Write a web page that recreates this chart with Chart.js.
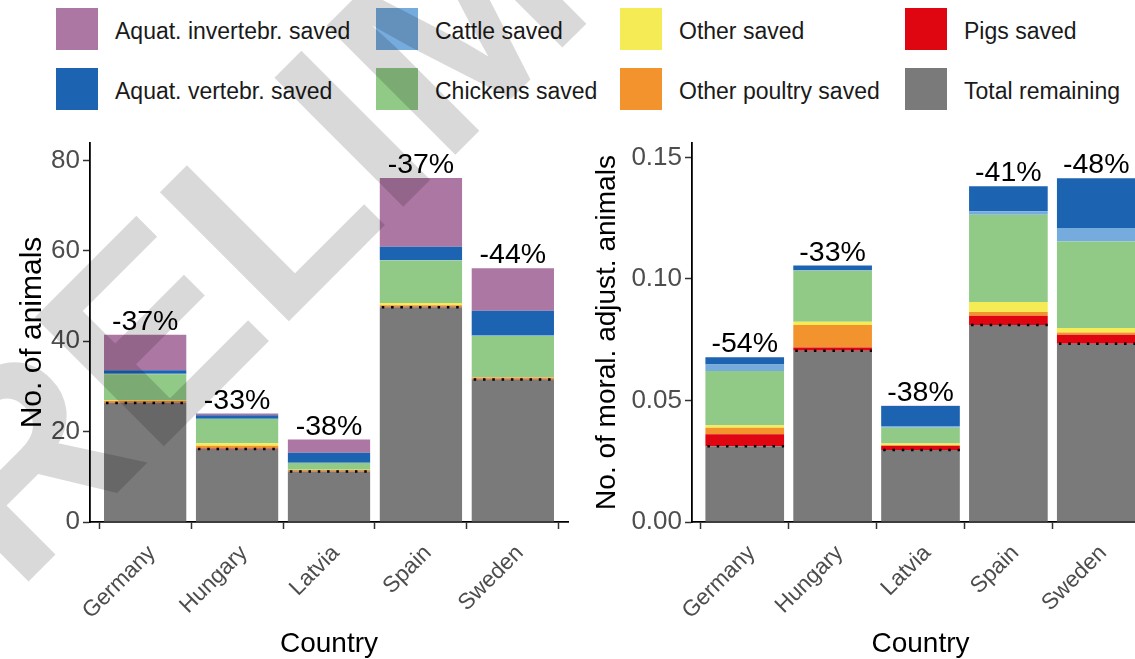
<!DOCTYPE html>
<html>
<head>
<meta charset="utf-8">
<script src="https://cdn.jsdelivr.net/npm/chart.js@4.4.1/dist/chart.umd.min.js"></script>
<style>
  html, body { margin: 0; padding: 0; background: #fff; overflow: hidden; width: 1135px; height: 659px; }
  body { position: relative; font-family: "Liberation Sans", Arial, sans-serif; }
  #legend { position: absolute; left: 56px; top: 8px; display: grid;
    grid-template-columns: 320px 244px 285px 230px; grid-template-rows: 42px 42px;
    row-gap: 18px; grid-auto-flow: column; }
  .item { display: flex; align-items: center; font-size: 23px; color: #1a1a1a; white-space: nowrap; }
  .item span.txt { position: relative; top: 2px; }
  .sw { width: 42px; height: 42px; margin-right: 17px; flex: none; }
  #wrapL { position: absolute; left: 0; top: 123px; width: 570px; height: 536px; }
  #wrapR { position: absolute; left: 570px; top: 123px; width: 600px; height: 536px; }
  #wm { position: absolute; left: 0; top: 0; pointer-events: none; }
</style>
</head>
<body>
<div id="legend"></div>
<div id="wrapL"><canvas id="animalsChart" width="570" height="536"></canvas></div>
<div id="wrapR"><canvas id="moralChart" width="600" height="536"></canvas></div>
<canvas id="wm" width="1135" height="659"></canvas>
<script>
const countries = ["Germany", "Hungary", "Latvia", "Spain", "Sweden"];

// stacking order, bottom to top
const seriesNames = ["Total remaining", "Pigs saved", "Other poultry saved", "Other saved",
  "Chickens saved", "Cattle saved", "Aquat. vertebr. saved", "Aquat. invertebr. saved"];
const seriesColors = ["#7a7a7a", "#df0511", "#f2932d", "#f5ec55",
  "#91c987", "#76abdd", "#1c64b2", "#ad77a4"];
// legend reads column by column
const legendOrder = ["Aquat. invertebr. saved", "Aquat. vertebr. saved", "Cattle saved", "Chickens saved",
  "Other saved", "Other poultry saved", "Pigs saved", "Total remaining"];

// left panel: no. of animals
const animRemaining    = [26.3, 16.15, 11.2, 47.5, 31.55];
const animPigs         = [0.1, 0.1, 0.05, 0.1, 0.1];
const animOtherPoultry = [0.4, 0.6, 0.25, 0.35, 0.3];
const animOther        = [0.15, 0.6, 0.05, 0.5, 0.1];
const animChickens     = [5.75, 5.35, 1.5, 9.4, 9.1];
const animCattle       = [0.1, 0.05, 0.05, 0.1, 0.1];
const animAqVert       = [0.8, 0.75, 2.2, 2.95, 5.5];
const animAqInvert     = [7.8, 0.4, 2.95, 15.2, 9.4];
const animPct          = ["-37%", "-33%", "-38%", "-37%", "-44%"];

// right panel: no. of moral. adjust. animals
const moralRemaining    = [0.0312, 0.0704, 0.0296, 0.0810, 0.0733];
const moralPigs         = [0.0049, 0.0014, 0.0018, 0.0038, 0.0037];
const moralOtherPoultry = [0.0027, 0.0092, 0.0002, 0.0016, 0.0010];
const moralOther        = [0.0010, 0.0014, 0.0007, 0.0041, 0.0018];
const moralChickens     = [0.0223, 0.0210, 0.0065, 0.0359, 0.0356];
const moralCattle       = [0.0027, 0.0002, 0.0007, 0.0014, 0.0055];
const moralAqVert       = [0.0030, 0.0019, 0.0082, 0.0103, 0.0205];
const moralAqInvert     = [0, 0, 0.0001, 0, 0];
const moralPct          = ["-54%", "-33%", "-38%", "-41%", "-48%"];

const FONT = "'Liberation Sans', Arial, sans-serif";

// legend
const legendEl = document.getElementById("legend");
legendOrder.forEach(name => {
  const k = seriesNames.indexOf(name);
  const item = document.createElement("div");
  item.className = "item";
  item.innerHTML = '<span class="sw" style="background:' + seriesColors[k] + '"></span><span class="txt">' + name + '</span>';
  legendEl.appendChild(item);
});

function makeDatasets(rows) {
  return rows.map((vals, k) => ({
    label: seriesNames[k],
    data: vals.map((v, i) => ({ x: i, y: v })),
    backgroundColor: seriesColors[k],
    borderWidth: 0,
    barPercentage: 0.895,
    categoryPercentage: 1
  }));
}

// percentage labels + dotted line at the remaining total
const barNotes = {
  id: "barNotes",
  afterDatasetsDraw(chart, args, opts) {
    const { ctx } = chart;
    const y = chart.scales.y;
    const bars = chart.getDatasetMeta(0).data;
    bars.forEach((bar, i) => {
      const left = bar.x - bar.width / 2, right = bar.x + bar.width / 2;
      const yr = y.getPixelForValue(opts.remaining[i]);
      ctx.save();
      ctx.strokeStyle = "#000";
      ctx.lineWidth = 2.5;
      ctx.setLineDash([2.5, 6.8]);
      ctx.lineDashOffset = -2;
      ctx.beginPath();
      ctx.moveTo(left, yr);
      ctx.lineTo(right, yr);
      ctx.stroke();
      ctx.setLineDash([]);
      const total = chart.data.datasets.reduce((s, d) => s + d.data[i].y, 0);
      ctx.font = "28.5px " + FONT;
      ctx.fillStyle = "#000";
      ctx.textAlign = "center";
      ctx.textBaseline = "alphabetic";
      ctx.fillText(opts.labels[i], bar.x, y.getPixelForValue(total) - 5);
      ctx.restore();
    });
  }
};

function makeChart(id, rows, o) {
  return new Chart(document.getElementById(id), {
    type: "bar",
    data: { datasets: makeDatasets(rows) },
    plugins: [barNotes],
    options: {
      responsive: false,
      animation: false,
      layout: { padding: o.padding },
      plugins: {
        legend: { display: false },
        tooltip: { enabled: false },
        barNotes: { labels: o.labels, remaining: rows[0] }
      },
      scales: {
        x: {
          type: "linear",
          min: -0.6,
          max: countries.length - 0.4,
          stacked: true,
          offset: false,
          afterFit: s => { s.height = 137; },
          ticks: {
            stepSize: 1,
            includeBounds: false,
            autoSkip: false,
            minRotation: 45,
            maxRotation: 45,
            padding: 11,
            labelOffset: 7,
            color: "#4d4d4d",
            font: { family: FONT, size: 22.5 },
            callback: v => countries[v]
          },
          grid: { drawOnChartArea: false, drawTicks: true, tickLength: 7, tickColor: "#333", tickWidth: 1.5 },
          border: { color: "#000", width: 1.8 },
          title: { display: true, text: "Country", color: "#000", font: { family: FONT, size: 28 }, padding: { top: 0, bottom: -2 } }
        },
        y: {
          stacked: true,
          min: 0,
          max: o.yMax,
          afterFit: s => { s.width = o.yWidth; },
          ticks: {
            stepSize: o.yStep,
            includeBounds: false,
            padding: 3,
            color: "#4d4d4d",
            font: { family: FONT, size: 26 },
            callback: o.yFormat
          },
          grid: { drawOnChartArea: false, drawTicks: true, tickLength: 7, tickColor: "#333", tickWidth: 1.5 },
          border: { color: "#000", width: 1.8 },
          title: { display: true, text: o.yTitle, color: "#000", font: { family: FONT, size: o.titleSize }, padding: { top: 1, bottom: 0 } }
        }
      }
    }
  });
}

makeChart("animalsChart",
  [animRemaining, animPigs, animOtherPoultry, animOther, animChickens, animCattle, animAqVert, animAqInvert],
  { padding: { left: 14, top: 20, right: 2, bottom: 0 }, yWidth: 76, yMax: 83.85, yStep: 20,
    yFormat: v => v, yTitle: "No. of animals", titleSize: 30, labels: animPct });

makeChart("moralChart",
  [moralRemaining, moralPigs, moralOtherPoultry, moralOther, moralChickens, moralCattle, moralAqVert, moralAqInvert],
  { padding: { left: 19, top: 20, right: 21, bottom: 0 }, yWidth: 103, yMax: 0.1559, yStep: 0.05,
    yFormat: v => v.toFixed(2), yTitle: "No. of moral. adjust. animals", titleSize: 28, labels: moralPct });

// "PRELIMINARY" watermark over the whole figure
const wm = document.getElementById("wm").getContext("2d");
wm.translate(-109, 719);
wm.rotate(-45 * Math.PI / 180);
wm.font = "bold 265px " + FONT;
wm.fillStyle = "rgba(0,0,0,0.15)";
wm.fillText("PRELIMINARY", 0, 0);
</script>
</body>
</html>
